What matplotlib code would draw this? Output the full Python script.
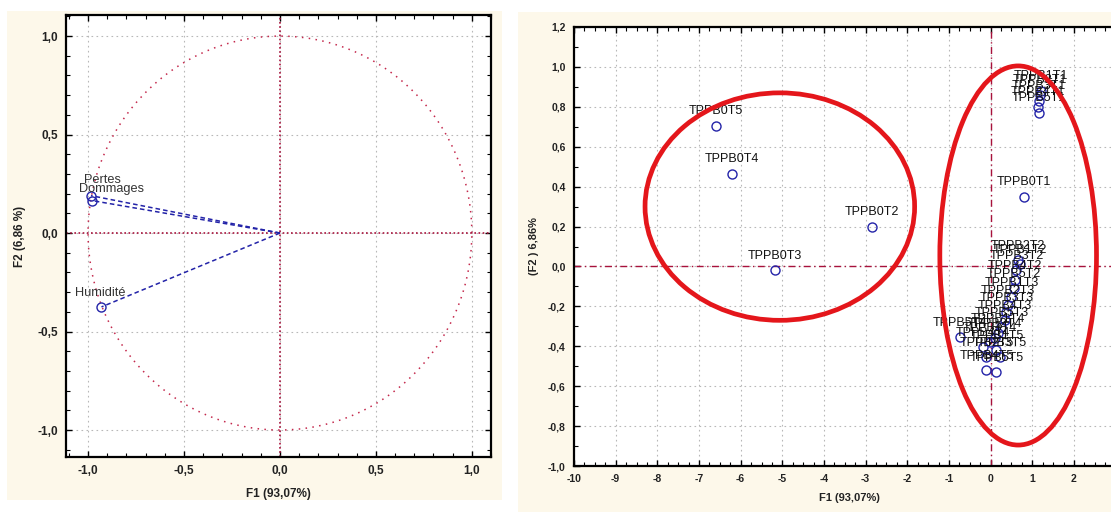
import numpy as np
import matplotlib
matplotlib.use("Agg")
import matplotlib.pyplot as plt
from matplotlib.patches import Ellipse, Rectangle
from matplotlib.ticker import MultipleLocator, FixedLocator, FuncFormatter

plt.rcParams['font.family'] = ['Liberation Sans', 'DejaVu Sans']

# ---------------- data ----------------
# Left panel: correlation circle (variables)
var_names = ["Dommages", "Pertes", "Humidité"]
var_f1 = [-0.98, -0.985, -0.93]
var_f2 = [0.165, 0.19, -0.375]

# Right panel: observations
obs_names = [
    "TPPB0T5", "TPPB0T4", "TPPB0T2", "TPPB0T3", "TPPB0T1",
    "TPPB1T1", "TPPB2T1", "TPPB3T1", "TPPB4T1", "TPPB5T1",
    "TPPB1T2", "TPPB2T2", "TPPB3T2", "TPPB4T2", "TPPB5T2",
    "TPPB1T3", "TPPB2T3", "TPPB3T3", "TPPB4T3", "TPPB5T3",
    "TPPB1T4", "TPPB2T4", "TPPB3T4", "TPPB4T4", "TPPB5T4",
    "TPPB1T5", "TPPB2T5", "TPPB3T5", "TPPB4T5", "TPPB5T5",
]
obs_f1 = [
    -6.6, -6.2, -2.85, -5.18, 0.79,
    1.20, 1.18, 1.16, 1.13, 1.15,
    0.70, 0.65, 0.62, 0.58, 0.55,
    0.50, 0.41, 0.38, 0.34, 0.26,
    0.17, 0.10, -0.02, -0.19, -0.74,
    0.14, -0.10, 0.22, -0.10, 0.14,
]
obs_f2 = [
    0.705, 0.465, 0.20, -0.02, 0.35,
    0.88, 0.86, 0.83, 0.80, 0.77,
    0.01, 0.03, -0.02, -0.07, -0.11,
    -0.155, -0.195, -0.23, -0.27, -0.305,
    -0.335, -0.36, -0.38, -0.405, -0.355,
    -0.42, -0.455, -0.455, -0.52, -0.53,
]

x_ticks_right = list(range(-10, 3))
x_label = "F1 (93,07%)"
y_label_left = "F2 (6,86 %)"
y_label_right = "(F2 ) 6,86%"

# ---------------- styles ----------------
CREAM = "#fdf8ea"
BLUE = "#2323a8"
DRED = "#a8123c"
RED = "#e4161b"

fig = plt.figure(figsize=(11.11, 5.12), dpi=100)
W, H = 1111, 512

def px_rect(x0, y0, x1, y1):
    return [x0 / W, 1 - y1 / H, (x1 - x0) / W, (y1 - y0) / H]

# cream panels behind the plots
for (x0, y0, x1, y1) in [(7, 11, 502, 500), (518, 12, 1111, 512)]:
    r = px_rect(x0, y0, x1, y1)
    fig.patches.append(Rectangle((r[0], r[1]), r[2], r[3], transform=fig.transFigure,
                                 facecolor=CREAM, edgecolor="none", zorder=-10))

comma = FuncFormatter(lambda v, p: (f"{v:.1f}").replace(".", ","))
comma_int = FuncFormatter(lambda v, p: f"{v:.0f}")

def style_axes(ax, lw=1.6):
    for s in ax.spines.values():
        s.set_linewidth(lw)
        s.set_color("black")
    ax.tick_params(which="both", direction="in", top=True, right=True, color="black")
    ax.tick_params(which="major", length=4, width=1.0)
    ax.tick_params(which="minor", length=3, width=0.8)
    ax.grid(True, which="major", color="#b8b8b8", linestyle=(0, (1.5, 3)), linewidth=0.8)
    ax.set_axisbelow(True)

# ---------------- left panel ----------------
ax1 = fig.add_axes(px_rect(66, 15, 491, 457))
ax1.set_facecolor("white")
ax1.set_xlim(-1.115, 1.1)
ax1.set_ylim(-1.137, 1.107)
style_axes(ax1)
ax1.xaxis.set_major_locator(MultipleLocator(0.5))
ax1.yaxis.set_major_locator(MultipleLocator(0.5))
ax1.xaxis.set_minor_locator(MultipleLocator(0.1))
ax1.yaxis.set_minor_locator(MultipleLocator(0.1))
ax1.xaxis.set_major_formatter(comma)
ax1.yaxis.set_major_formatter(comma)
for lab in ax1.get_xticklabels() + ax1.get_yticklabels():
    lab.set_fontweight("bold")
ax1.tick_params(which="major", labelsize=8.5, labelcolor="#222222", pad=6)

t = np.linspace(0, 2 * np.pi, 400)
ax1.plot(np.cos(t), np.sin(t), color="#c4284c", linestyle=(0, (1, 3.5)), linewidth=1.1)
ax1.axhline(0, color=DRED, linestyle=(0, (1, 1.5)), linewidth=1.2)
ax1.axvline(0, color=DRED, linestyle=(0, (1, 1.5)), linewidth=1.2)

var_offsets = {"Dommages": (-9, 8), "Pertes": (-5, 11), "Humidité": (-19, 10)}
for name, x, y in zip(var_names, var_f1, var_f2):
    ax1.plot([0, x], [0, y], color=BLUE, linestyle=(0, (3, 2)), linewidth=1.1)
    ax1.plot(x, y, marker="o", markersize=6.5, markerfacecolor="none",
             markeredgecolor=BLUE, markeredgewidth=1.0, linestyle="none")
    ax1.annotate(name, (x, y), xytext=var_offsets[name], textcoords="offset points",
                 ha="left", va="center", fontsize=9.2, color="#333333")

ax1.set_xlabel(x_label, fontsize=8.5, fontweight="bold", color="#222222", labelpad=8)
ax1.set_ylabel(y_label_left, fontsize=8.5, fontweight="bold", color="#222222", labelpad=8)

# ---------------- right panel ----------------
ax2 = fig.add_axes(px_rect(574, 27, 1124, 466))
ax2.set_facecolor("white")
ax2.set_xlim(-10, 3.2)
ax2.set_ylim(-1.0, 1.2)
style_axes(ax2)
ax2.xaxis.set_major_locator(FixedLocator(x_ticks_right))
ax2.xaxis.set_minor_locator(MultipleLocator(0.25))
ax2.yaxis.set_major_locator(MultipleLocator(0.2))
ax2.yaxis.set_minor_locator(MultipleLocator(0.1))
ax2.xaxis.set_major_formatter(comma_int)
ax2.yaxis.set_major_formatter(comma)
for lab in ax2.get_xticklabels() + ax2.get_yticklabels():
    lab.set_fontweight("bold")
ax2.tick_params(which="major", labelsize=7.5, labelcolor="#222222", pad=6)

ax2.axhline(0, color=DRED, linestyle=(0, (5, 2.5, 1, 2.5)), linewidth=1.0)
ax2.axvline(0, color=DRED, linestyle=(0, (5, 2.5, 1, 2.5)), linewidth=1.0)

ax2.plot(obs_f1, obs_f2, marker="o", markersize=6.5, markerfacecolor="none",
         markeredgecolor=BLUE, markeredgewidth=1.0, linestyle="none", zorder=4)
for name, x, y in zip(obs_names, obs_f1, obs_f2):
    ax2.annotate(name, (x, y), xytext=(0, 10.5), textcoords="offset points",
                 ha="center", va="center", fontsize=9.0, color="#111111", zorder=5)

ax2.add_patch(Ellipse((-5.06, 0.30), 6.47, 1.14, fill=False, edgecolor=RED,
                      linewidth=3.4, zorder=6))
ax2.add_patch(Ellipse((0.66, 0.055), 3.76, 1.9, fill=False, edgecolor=RED,
                      linewidth=3.4, zorder=6))

ax2.set_xlabel(x_label, fontsize=8, fontweight="bold", color="#222222", labelpad=6)
ax2.set_ylabel(y_label_right, fontsize=8, fontweight="bold", color="#222222", labelpad=6)

fig.savefig("out.png", dpi=100, facecolor="white")
